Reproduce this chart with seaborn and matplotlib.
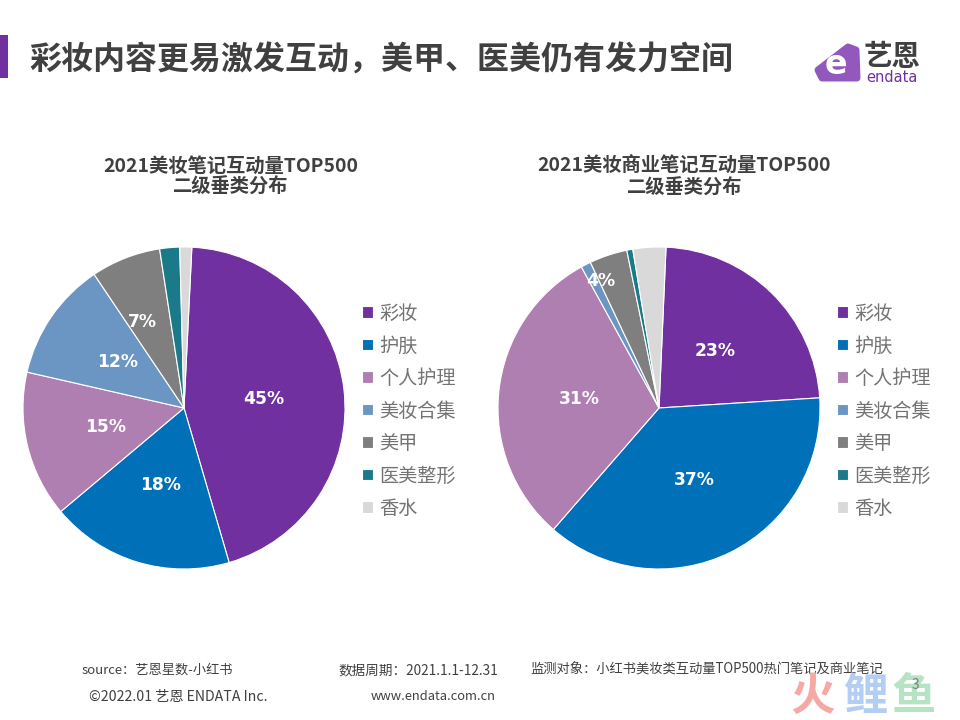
import seaborn as sns
import matplotlib.pyplot as plt
from matplotlib.patches import Rectangle, Polygon

# Data
categories = ['彩妆', '护肤', '个人护理', '美妆合集', '美甲', '医美整形', '香水']
all_notes = [44.7, 18.4, 14.7, 12.0, 7.0, 2.0, 1.2]
paid_notes = [23.3, 37.4, 30.6, 1.0, 3.8, 0.6, 3.3]
all_title = '2021美妆笔记互动量TOP500\n二级垂类分布'
paid_title = '2021美妆商业笔记互动量TOP500\n二级垂类分布'
colors = ['#7030a0', '#0070b8', '#ae7fb0', '#6b96c3', '#7f7f7f', '#1a7a8a', '#d9d9d9']

sns.set_theme(style='white')
plt.rcParams['font.family'] = ['Noto Sans CJK SC', 'DejaVu Sans']
palette = sns.color_palette(colors)

W, H = 960, 720
fig = plt.figure(figsize=(9.6, 7.2), dpi=100, facecolor='white')


def px_axes(cx, cy, r):
    # axes square around a pie, given in pixels from the top left
    return fig.add_axes([(cx - r) / W, 1 - (cy + r) / H, 2 * r / W, 2 * r / H])


def draw_pie(values, cx, start, legend_x, min_pct):
    ax = px_axes(cx, 408, 161)
    wedges, _, autotexts = ax.pie(
        values, colors=palette, startangle=start, counterclock=False, radius=1,
        autopct=lambda p: f'{p:.0f}%' if p >= min_pct else '',
        pctdistance=0.5,
        wedgeprops={'edgecolor': 'white', 'linewidth': 0.8},
        textprops={'color': 'white', 'fontsize': 12.3, 'fontweight': 'bold', 'family': 'DejaVu Sans'})
    ax.set_xlim(-1, 1)
    ax.set_ylim(-1, 1)
    ax.legend(wedges, categories, loc='center left', frameon=False,
              bbox_to_anchor=((legend_x - cx + 161) / 322, 0.5 - (411 - 408) / 322),
              fontsize=13.8, labelcolor='#737373', handlelength=0.55, handleheight=0.55,
              handletextpad=0.37, labelspacing=0.6, borderpad=0, borderaxespad=0)
    return ax, autotexts


ax1, texts1 = draw_pie(all_notes, 184, 87.2, 362, 5)
ax2, texts2 = draw_pie(paid_notes, 659, 87.5, 837, 3.5)
# these two labels sit further out in their slices
texts1[4].set_position((-0.26, 0.535))
texts2[4].set_position((-0.36, 0.79))

fig.text(230.5 / W, 1 - 177 / H, all_title, ha='center', va='center', fontsize=13.9,
         fontweight='bold', color='#404040', linespacing=1.15)
fig.text(684.5 / W, 1 - 177 / H, paid_title, ha='center', va='center', fontsize=13.9,
         fontweight='bold', color='#404040', linespacing=1.15)

# Header
fig.add_artist(Rectangle((0, 1 - 78 / H), 8 / W, 43 / H, transform=fig.transFigure,
                         facecolor='#7030a0', edgecolor='none'))
fig.text(29 / W, 1 - 61 / H, '彩妆内容更易激发互动，美甲、医美仍有发力空间', ha='left', va='center',
         fontsize=23, fontweight='bold', color='#404040')

# Logo
logo_px = [(848, 47), (856, 50), (857, 78), (822, 78), (818, 70)]
fig.add_artist(Polygon([(x / W, 1 - y / H) for x, y in logo_px], closed=True,
                       transform=fig.transFigure, facecolor='#9358bd', edgecolor='#9358bd',
                       linewidth=5, joinstyle='round'))
fig.text(836 / W, 1 - 64 / H, 'e', ha='center', va='center', fontsize=24, fontweight='bold',
         color='white', family='DejaVu Sans')
fig.text(892 / W, 1 - 57 / H, '艺恩', ha='center', va='center', fontsize=20.5, fontweight='bold',
         color='#404040')
fig.text(892 / W, 1 - 78 / H, 'endata', ha='center', va='center', fontsize=10.5, color='#7030a0',
         family='DejaVu Sans')

# Footer
footer = [(82, 670, 'source：艺恩星数-小红书', 9.5),
          (338, 670, '数据周期：2021.1.1-12.31', 9.8),
          (530, 670, '监测对象：小红书美妆类互动量TOP500热门笔记及商业笔记', 9.55),
          (89, 697, '©2022.01 艺恩 ENDATA Inc.', 10.2),
          (371, 697, 'www.endata.com.cn', 9.3)]
for x, y, s, size in footer:
    fig.text(x / W, 1 - y / H, s, ha='left', va='center', fontsize=size, color='#404040')

# Watermark and page number
for x, s, c in [(813, '火', '#f4a9a5'), (865, '鲤', '#b3cdf3'), (914, '鱼', '#b5e3c3')]:
    fig.text(x / W, 1 - 697 / H, s, ha='center', va='center', fontsize=32, fontweight='bold',
             color=c)
fig.text(915 / W, 1 - 685 / H, '3', ha='center', va='center', fontsize=10, color='#7f7f7f')

plt.savefig('out.png', dpi=100, facecolor='white')
